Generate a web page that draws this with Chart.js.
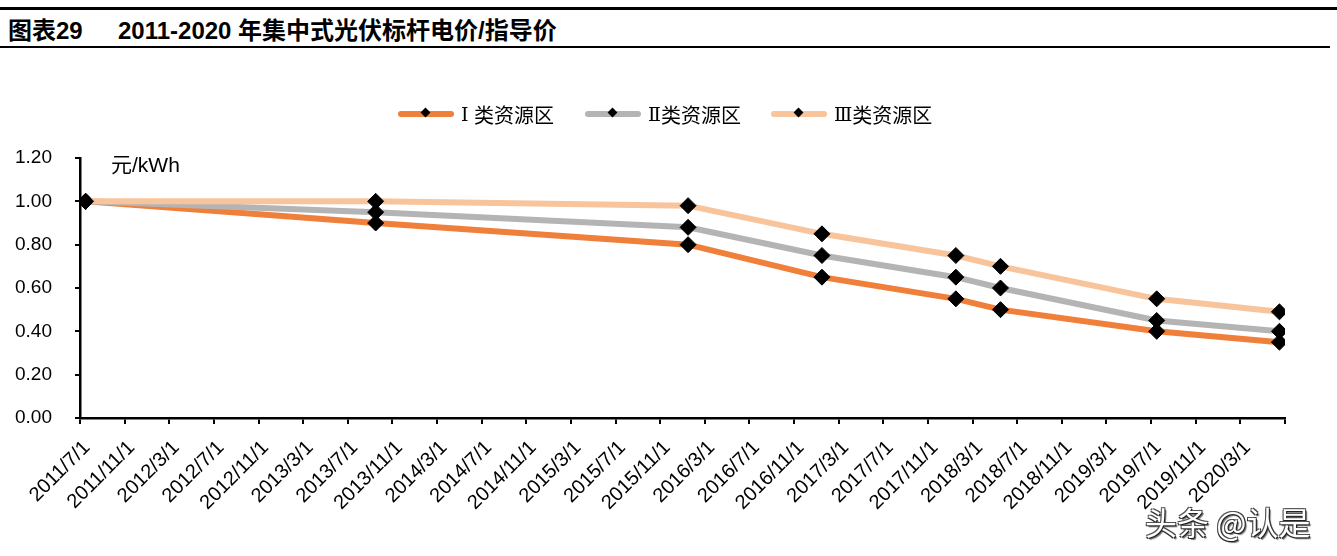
<!DOCTYPE html>
<html>
<head>
<meta charset="utf-8">
<script src="https://cdn.jsdelivr.net/npm/chart.js@4.4.1/dist/chart.umd.min.js"></script>
<style>
  html, body { margin: 0; padding: 0; background: #fff; }
  body { width: 1337px; height: 556px; position: relative; overflow: hidden;
         font-family: "Liberation Sans", Arial, "Noto Sans CJK SC", sans-serif; }
  #topline { position: absolute; left: 0; top: 7px; width: 1337px; height: 3px; background: #000; }
  #botline { position: absolute; left: 0; top: 46px; width: 1330px; height: 2px; background: #000; }
  .tt { position: absolute; top: 19px; font-size: 24px; line-height: 24px; font-weight: bold; color: #000;
        font-family: "Liberation Sans", Arial, "Noto Sans CJK SC", sans-serif; white-space: pre; }
  #legend { position: absolute; top: 100px; left: 0; width: 1337px; height: 28px; }
  .li { position: absolute; top: 0; height: 28px; display: flex; align-items: center; font-size: 20px; color: #000;
        font-family: "Liberation Sans", "Noto Sans CJK SC", sans-serif; white-space: pre; }
  .rn { font-family: "DejaVu Serif", "Liberation Serif", serif; font-size: 19px; }
  .sw { position: relative; width: 56px; height: 6px; border-radius: 3px; margin-right: 7px; }
  .sw i { position: absolute; left: 24px; top: -2px; width: 7px; height: 7px; background: #000; transform: rotate(45deg); }
  #unit { position: absolute; left: 111px; top: 148px; font-size: 21px; color: #000;
          font-family: "Liberation Sans", "Noto Sans CJK SC", sans-serif; }
  #wm { position: absolute; left: 1145px; top: 504px; font-size: 32px; line-height: 34px; color: #fff;
        font-family: "Noto Sans CJK SC", sans-serif; white-space: pre;
        text-shadow: 1px 1px 0 #222, -1px -1px 0 #555, 1px -1px 0 #444, -1px 1px 0 #333, 2px 2px 1px #777; }
  #wrap { position: absolute; left: 0; top: 0; width: 1337px; height: 556px; }
</style>
</head>
<body>
<div id="topline"></div>
<div class="tt" style="left:8px">图表29</div>
<div class="tt" style="left:118px">2011-2020 年集中式光伏标杆电价/指导价</div>
<div id="botline"></div>
<div id="wrap"><canvas id="c" width="1337" height="556"></canvas></div>
<div id="legend"></div>
<div id="unit">元/kWh</div>
<div id="wm">头条 @认是</div>
<script>
// ---- data ----
const dates = ['2011/7/1', '2013/9/1', '2016/1/1', '2017/1/1', '2018/1/1', '2018/5/31', '2019/7/1', '2020/6/1'];
const seriesNumerals = ['Ⅰ', 'Ⅱ', 'Ⅲ'];
const seriesNames = ['Ⅰ 类资源区', 'Ⅱ类资源区', 'Ⅲ类资源区'];
const region1 = [1.00, 0.90, 0.80, 0.65, 0.55, 0.50, 0.40, 0.35];
const region2 = [1.00, 0.95, 0.88, 0.75, 0.65, 0.60, 0.45, 0.40];
const region3 = [1.00, 1.00, 0.98, 0.85, 0.75, 0.70, 0.55, 0.49];
const axisStart = '2011/7/1';
const axisEnd = '2020/7/1';
const tickMonthStep = 4;
const yTicks = [0, 0.2, 0.4, 0.6, 0.8, 1.0, 1.2];

const colors = ['#F07F3A', '#B4B4B4', '#F8C49C'];

// month-based date axis (Excel month base unit: points centred in their month)
function monthIndex(s) {
  const [y, m] = s.split('/').map(Number);
  const [y0, m0] = axisStart.split('/').map(Number);
  return (y - y0) * 12 + (m - m0);
}
function monthLabel(i) {
  const [y0, m0] = axisStart.split('/').map(Number);
  const t = (m0 - 1) + i;
  return (y0 + Math.floor(t / 12)) + '/' + ((t % 12) + 1) + '/1';
}
const xMax = monthIndex(axisEnd);
const toPoints = vals => vals.map((v, i) => ({ x: monthIndex(dates[i]) + 0.5, y: v }));
const allSeries = [region1, region2, region3];

const datasets = allSeries.map((vals, k) => ({
  label: seriesNames[k],
  data: toPoints(vals),
  borderColor: colors[k],
  backgroundColor: '#000',
  borderWidth: 6,
  pointStyle: 'rectRot',
  pointRadius: 8,
  pointHoverRadius: 8,
  pointBackgroundColor: '#000',
  pointBorderColor: '#000',
  pointBorderWidth: 1,
  tension: 0,
  order: 3 - k
}));

// HTML legend
const legendPos = [398, 585, 771];
const lg = document.getElementById('legend');
seriesNames.forEach((n, k) => {
  const d = document.createElement('div');
  d.className = 'li';
  d.style.left = legendPos[k] + 'px';
  const rest = n.slice(seriesNumerals[k].length);
  d.innerHTML = '<span class="sw" style="background:' + colors[k] + '"><i></i></span>' +
                '<span class="rn">' + seriesNumerals[k] + '</span><span>' + rest + '</span>';
  lg.appendChild(d);
});

new Chart(document.getElementById('c'), {
  type: 'line',
  data: { datasets },
  options: {
    responsive: false,
    animation: false,
    events: [],
    layout: { padding: { top: 158, left: 0, right: 52, bottom: 0 } },
    plugins: { legend: { display: false }, tooltip: { enabled: false }, title: { display: false } },
    scales: {
      x: {
        type: 'linear',
        min: 0,
        max: xMax,
        afterBuildTicks: s => {
          const t = [];
          for (let i = 0; i <= xMax; i += tickMonthStep) t.push({ value: i });
          s.ticks = t;
        },
        afterFit: s => { s.height = 556 - 418; },
        grid: { drawOnChartArea: false, drawTicks: true, tickLength: 6, color: '#000', lineWidth: 2 },
        border: { display: true, color: '#000', width: 2.5 },
        ticks: {
          autoSkip: false,
          maxRotation: 45,
          minRotation: 45,
          padding: 12,
          labelOffset: 7,
          color: '#000',
          font: { family: '"Liberation Sans", Arial, sans-serif', size: 20 },
          callback: v => (v >= xMax ? '' : monthLabel(v))
        }
      },
      y: {
        min: 0,
        max: 1.2,
        afterBuildTicks: s => { s.ticks = yTicks.map(v => ({ value: v })); },
        afterFit: s => { s.width = 80; },
        grid: { drawOnChartArea: false, drawTicks: true, tickLength: 5, color: '#000', lineWidth: 2 },
        border: { display: true, color: '#000', width: 2.5 },
        ticks: {
          padding: 23,
          color: '#000',
          font: { family: '"Liberation Sans", Arial, sans-serif', size: 19 },
          callback: v => Number(v).toFixed(2)
        }
      }
    }
  }
});
</script>
</body>
</html>
